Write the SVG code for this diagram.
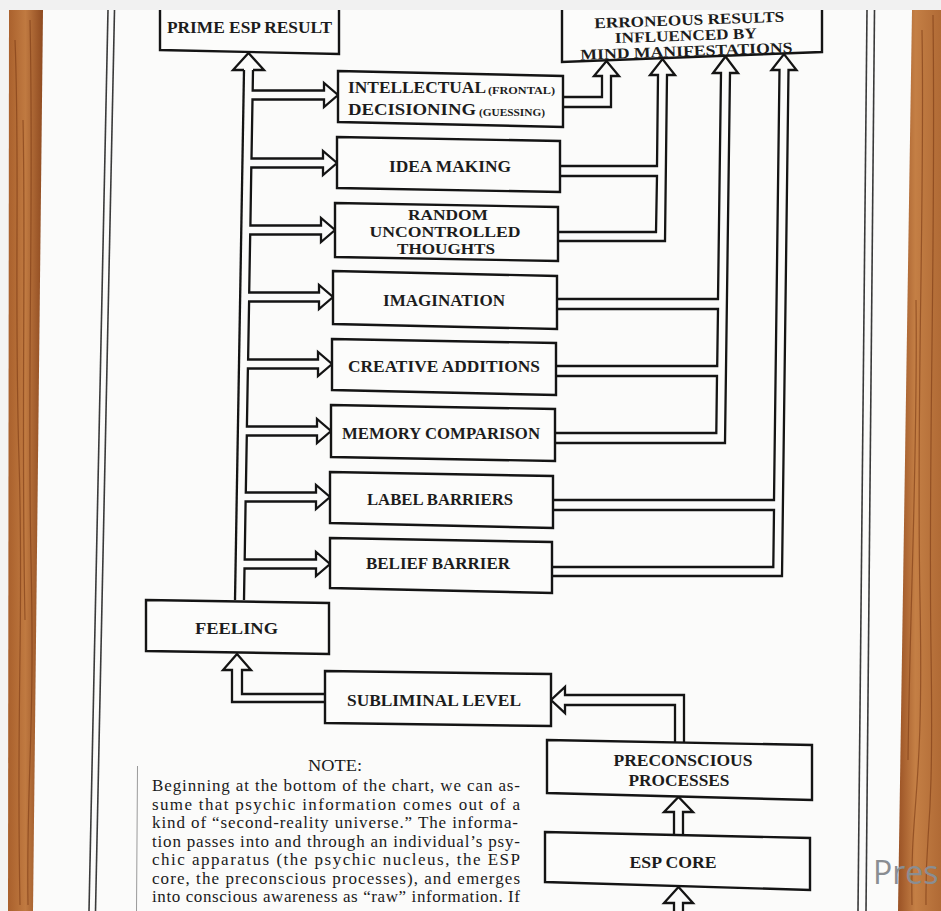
<svg xmlns="http://www.w3.org/2000/svg" width="941" height="911" viewBox="0 0 941 911">
<defs>
<linearGradient id="woodL" x1="0" y1="0" x2="1" y2="0">
<stop offset="0" stop-color="#a9602c"/><stop offset="0.5" stop-color="#c07a41"/><stop offset="1" stop-color="#8e4a20"/>
</linearGradient>
<linearGradient id="woodR" x1="0" y1="0" x2="1" y2="0">
<stop offset="0" stop-color="#9a5225"/><stop offset="0.4" stop-color="#c47f45"/><stop offset="1" stop-color="#b06a35"/>
</linearGradient>
<style>
.box{fill:#fcfcfb;stroke:#141414;stroke-width:2.4;stroke-linejoin:miter}
.conn{fill:none;stroke:#141414;stroke-width:2.3;stroke-linejoin:miter}
.lbl{font-family:"Liberation Serif","Times New Roman",serif;font-weight:bold;font-size:17px;fill:#1c1c1c;text-anchor:middle}
.lft{text-anchor:start}
.sm{font-size:9.5px}
.tight{font-size:15px}
.note{font-family:"Liberation Serif","Times New Roman",serif;font-size:17px;fill:#1a1a1a}
.frame{fill:none;stroke:#3a3a3a;stroke-width:1.6}
.streak{fill:none;stroke:#7a3814;stroke-width:1.2;opacity:0.6}
</style>
</defs>
<rect x="0" y="0" width="941" height="911" fill="#f4f4f3"/>
<polygon points="43,10 912,10 898,911 33,911" fill="#fbfbfa"/>
<g id="wood-left">
<polygon points="9,10 43,10 33,911 8,911" fill="url(#woodL)"/>
<path class="streak" d="M15,40 C20,160 14,300 19,460 S16,700 20,905"/>
<path class="streak" d="M30,20 C34,200 27,380 31,560 S26,780 28,905"/>
<path class="streak" d="M23,120 C26,260 21,420 25,620"/>
</g>
<g id="wood-right">
<polygon points="912,10 941,10 941,911 898,911" fill="url(#woodR)"/>
<path class="streak" d="M922,30 C925,200 916,400 920,600 S910,800 912,905"/>
<path class="streak" d="M933,15 C936,250 928,450 931,650 S925,820 926,905"/>
<path class="streak" d="M916,300 C918,450 910,600 908,760"/>
</g>
<g id="page-frame">
<line class="frame" x1="108" y1="10" x2="89" y2="911"/>
<line class="frame" x1="114.5" y1="10" x2="95.5" y2="911"/>
<line class="frame" x1="867" y1="10" x2="858" y2="911"/>
<line class="frame" x1="874.5" y1="10" x2="866" y2="911"/>
<line x1="137.5" y1="766" x2="136.5" y2="911" stroke="#9a9a9a" stroke-width="1"/>
</g>
<g id="connectors">
<path class="conn" d="M244,70 L235,600"/>
<path class="conn" d="M244,70 L233,70 L248.5,53 L264,70 L253,70"/>
<path class="conn" d="M253,70 L252.7,90.5 L324,90.5 L324,83 L338,95 L324,107 L324,99.5 L252.5,99.5 L251.5,158.5 L323,158.5 L323,151 L337,163 L323,175 L323,167.5 L251.3,167.5 L250.4,225.5 L321,225.5 L321,218 L335,230 L321,242 L321,234.5 L250.2,234.5 L249.2,292.5 L319,292.5 L319,285 L333,297 L319,309 L319,301.5 L249.1,301.5 L248.1,359.5 L318,359.5 L318,352 L332,364 L318,376 L318,368.5 L247.9,368.5 L246.9,426.5 L317,426.5 L317,419 L331,431 L317,443 L317,435.5 L246.8,435.5 L245.8,492.5 L316,492.5 L316,485 L330,497 L316,509 L316,501.5 L245.6,501.5 L244.7,559.5 L316,559.5 L316,552 L330,564 L316,576 L316,568.5 L244.5,568.5 L244,600"/>
<path class="conn" d="M563,97 L602,97 L602,76 L594,76 L606.5,61 L619,76 L611,76 L611,107 L563,107"/>
<path class="conn" d="M560,166 L657,166 L658,75 L650,75 L662.5,59 L675,75 L667,75 L665,241 L558,241"/>
<path class="conn" d="M560,176 L657,176 L656,232 L558,232"/>
<path class="conn" d="M557,299 L718,299 L721,73 L713,73 L725.5,56.5 L738,73 L730,73 L725,443 L555,443"/>
<path class="conn" d="M557,309 L718,309 L717.2,366 L556,366"/>
<path class="conn" d="M556,376 L717,376 L716.3,433 L555,433"/>
<path class="conn" d="M553,500 L774,500 L779.5,70 L771.5,70 L784,54 L796.5,70 L788.5,70 L782,576 L552,576"/>
<path class="conn" d="M553,510 L774,510 L773.3,567 L552,567"/>
<path class="conn" d="M325,702 L232,702 L232,670 L223,670 L237,654 L251,670 L242,670 L242,694 L325,694"/>
<path class="conn" d="M675,742 L675,705 L565,705 L565,713 L551,700 L565,687 L565,695 L684,695 L684,743"/>
<path class="conn" d="M674,835 L674,812 L664,812 L678.5,797 L693,812 L683,812 L683,835"/>
<path class="conn" d="M674,915 L674,903 L664,903 L678.5,887 L693,903 L683,903 L683,915"/>
</g>
<g id="prime-esp-result">
<polygon class="box" points="160,4 339,4 339,54 160,50"/>
<text class="lbl" x="249.5" y="33" textLength="165" lengthAdjust="spacingAndGlyphs">PRIME ESP RESULT</text>
</g>
<g id="erroneous-results">
<polygon class="box" points="562,4 822,4 822,52 562,62"/>
<g transform="rotate(-2 688 40)">
<text class="lbl tight" x="690" y="25" textLength="190" lengthAdjust="spacingAndGlyphs">ERRONEOUS RESULTS</text>
<text class="lbl tight" x="686" y="40.5" textLength="142" lengthAdjust="spacingAndGlyphs">INFLUENCED BY</text>
<text class="lbl tight" x="686" y="56" textLength="212" lengthAdjust="spacingAndGlyphs">MIND MANIFESTATIONS</text>
</g>
</g>
<g id="intellectual-decisioning">
<polygon class="box" points="338,71 563,76 563,127 338,122"/>
<text class="lbl lft" x="348" y="93" textLength="138" lengthAdjust="spacingAndGlyphs">INTELLECTUAL</text>
<text class="lbl lft sm" x="488" y="94" textLength="67" lengthAdjust="spacingAndGlyphs">(FRONTAL)</text>
<text class="lbl lft" x="348" y="115" textLength="128" lengthAdjust="spacingAndGlyphs">DECISIONING</text>
<text class="lbl lft sm" x="479" y="116" textLength="66" lengthAdjust="spacingAndGlyphs">(GUESSING)</text>
</g>
<g id="idea-making">
<polygon class="box" points="337,137 560,141 560,192 337,188"/>
<text class="lbl" x="450" y="172" textLength="122" lengthAdjust="spacingAndGlyphs">IDEA MAKING</text>
</g>
<g id="random-thoughts">
<polygon class="box" points="335,203 558,207 558,261 335,257"/>
<text class="lbl tight" x="448" y="220" textLength="80" lengthAdjust="spacingAndGlyphs">RANDOM</text>
<text class="lbl tight" x="445" y="237" textLength="151" lengthAdjust="spacingAndGlyphs">UNCONTROLLED</text>
<text class="lbl tight" x="446" y="254" textLength="98" lengthAdjust="spacingAndGlyphs">THOUGHTS</text>
</g>
<g id="imagination">
<polygon class="box" points="333,271 557,276 557,329 333,324"/>
<text class="lbl" x="444" y="306" textLength="122" lengthAdjust="spacingAndGlyphs">IMAGINATION</text>
</g>
<g id="creative-additions">
<polygon class="box" points="332,339 556,343 556,395 332,390"/>
<text class="lbl" x="444" y="372" textLength="192" lengthAdjust="spacingAndGlyphs">CREATIVE ADDITIONS</text>
</g>
<g id="memory-comparison">
<polygon class="box" points="331,405 555,409 555,461 331,457"/>
<text class="lbl" x="441" y="439" textLength="198" lengthAdjust="spacingAndGlyphs">MEMORY COMPARISON</text>
</g>
<g id="label-barriers">
<polygon class="box" points="330,472 553,476 553,528 330,523"/>
<text class="lbl" x="440" y="505" textLength="146" lengthAdjust="spacingAndGlyphs">LABEL BARRIERS</text>
</g>
<g id="belief-barrier">
<polygon class="box" points="330,538 552,542 552,593 330,588"/>
<text class="lbl" x="438" y="569" textLength="144" lengthAdjust="spacingAndGlyphs">BELIEF BARRIER</text>
</g>
<g id="feeling">
<polygon class="box" points="146,600 329,603 329,654 146,651"/>
<text class="lbl" x="236.5" y="634" textLength="83" lengthAdjust="spacingAndGlyphs">FEELING</text>
</g>
<g id="subliminal-level">
<polygon class="box" points="325,671 551,674 551,726 325,723"/>
<text class="lbl" x="434" y="706" textLength="174" lengthAdjust="spacingAndGlyphs">SUBLIMINAL LEVEL</text>
</g>
<g id="preconscious-processes">
<polygon class="box" points="547,740 812,745 812,800 547,793"/>
<text class="lbl" x="683" y="766" textLength="139" lengthAdjust="spacingAndGlyphs">PRECONSCIOUS</text>
<text class="lbl" x="679" y="786" textLength="101" lengthAdjust="spacingAndGlyphs">PROCESSES</text>
</g>
<g id="esp-core">
<polygon class="box" points="545,832 810,838 810,890 545,882"/>
<text class="lbl" x="673" y="868" textLength="87" lengthAdjust="spacingAndGlyphs">ESP CORE</text>
</g>
<g id="note">
<text class="note" x="335" y="771" text-anchor="middle" textLength="54" lengthAdjust="spacingAndGlyphs">NOTE:</text>
<text class="note" x="152" y="791" textLength="368" lengthAdjust="spacing">Beginning at the bottom of the chart, we can as-</text>
<text class="note" x="152" y="809.5" textLength="368" lengthAdjust="spacing">sume that psychic information comes out of a</text>
<text class="note" x="152" y="828" textLength="366" lengthAdjust="spacing">kind of “second-reality universe.” The informa-</text>
<text class="note" x="152" y="846.5" textLength="368" lengthAdjust="spacing">tion passes into and through an individual’s psy-</text>
<text class="note" x="152" y="865" textLength="368" lengthAdjust="spacing">chic apparatus (the psychic nucleus, the ESP</text>
<text class="note" x="152" y="883.5" textLength="368" lengthAdjust="spacing">core, the preconscious processes), and emerges</text>
<text class="note" x="152" y="902" textLength="368" lengthAdjust="spacing">into conscious awareness as “raw” information. If</text>
</g>
<rect x="0" y="0" width="941" height="10" fill="#f1f1f1"/>
<text x="873" y="884" font-family="'Open Sans','Noto Sans',sans-serif" font-size="32" fill="#8a8d92">Pres</text>
</svg>
